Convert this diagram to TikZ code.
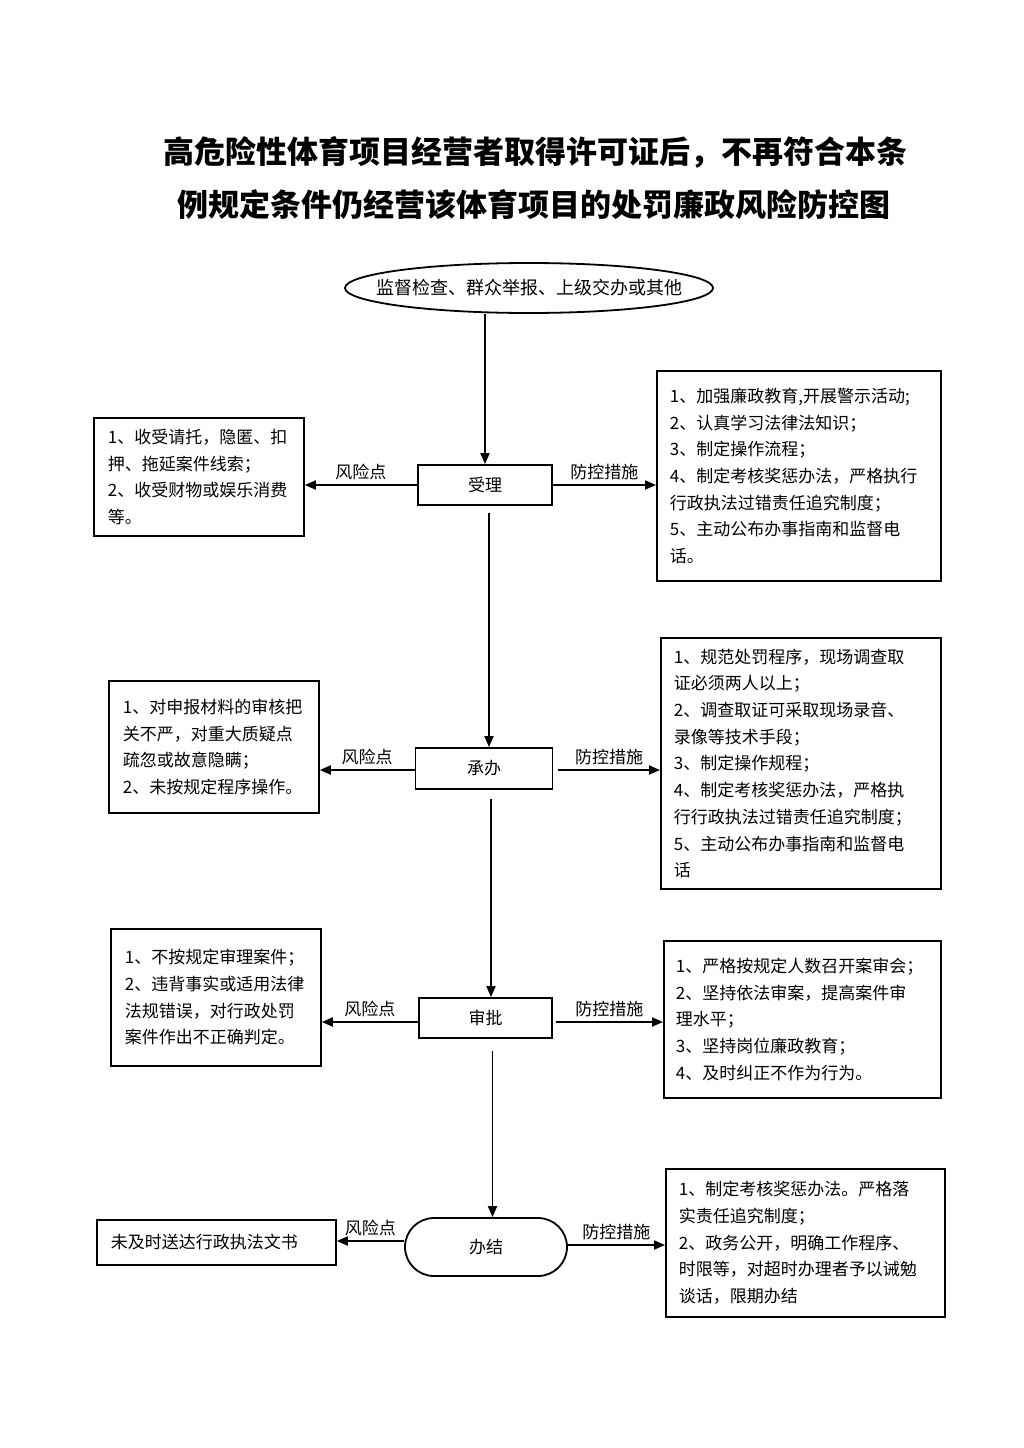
\documentclass[tikz,border=0pt]{standalone}
\usepackage{fontspec}
\setmainfont{Noto Sans CJK SC}
\usetikzlibrary{shapes.geometric,shapes.misc,arrows.meta}
\XeTeXlinebreaklocale "zh"
\begin{document}
\begin{tikzpicture}[x=1pt,y=-1pt,
 txt/.style={font=\fontsize{17}{26.7}\selectfont},
 box/.style={draw,line width=1.8pt,txt,inner sep=0pt},
 tbox/.style={box,anchor=north west,align=left,inner xsep=13pt},
 stage/.style={box,minimum width=134pt,minimum height=40pt},
 arr/.style={line width=1.8pt,-{Triangle[length=11pt,width=9pt]}},
 lab/.style={txt,above=4pt,inner sep=0pt},
 ttl/.style={font=\fontsize{31}{40}\selectfont\bfseries}
]
\useasboundingbox (0,0) rectangle (1024,1448);

\node[ttl] (t1) at (535,152) {高危险性体育项目经营者取得许可证后，不再符合本条};
\node[ttl] (t2) at (534,205) {例规定条件仍经营该体育项目的处罚廉政风险防控图};

\node[box,ellipse,font=\fontsize{18}{22}\selectfont,inner xsep=-26pt,inner ysep=0pt,minimum width=368pt,minimum height=50pt] (src) at (529,288) {监督检查、群众举报、上级交办或其他};

\node[stage] (sl) at (485,485) {受理};
\node[stage,minimum width=137pt,minimum height=41pt] (cb) at (484,768.5) {承办};
\node[stage,minimum width=133pt] (sp) at (485.5,1018) {审批};
\node[box,rounded rectangle,minimum width=162pt,minimum height=58pt] (bj) at (486,1247) {办结};

% left boxes
\node[tbox,minimum width=210pt,minimum height=118pt,text width=182pt,inner xsep=14pt] (l1) at (93,417) {1、收受请托，隐匿、扣\\押、拖延案件线索；\\2、收受财物或娱乐消费\\等。};
\node[tbox,minimum width=210pt,minimum height=132pt,text width=182pt,inner xsep=14pt] (l2) at (108,680) {1、对申报材料的审核把\\关不严，对重大质疑点\\疏忽或故意隐瞒；\\2、未按规定程序操作。};
\node[tbox,minimum width=210pt,minimum height=137pt,text width=182pt,inner xsep=14pt] (l3) at (110,928) {1、不按规定审理案件；\\2、违背事实或适用法律\\法规错误，对行政处罚\\案件作出不正确判定。};
\node[tbox,minimum width=239pt,minimum height=45pt,text width=211pt,inner xsep=14pt] (l4) at (96,1219) {未及时送达行政执法文书};

% right boxes
\node[tbox,minimum width=284pt,minimum height=210pt,text width=258pt] (r1) at (656,370) {1、加强廉政教育,开展警示活动;\\2、认真学习法律法知识；\\3、制定操作流程；\\4、制定考核奖惩办法，严格执行\\行政执法过错责任追究制度；\\5、主动公布办事指南和监督电\\话。};
\node[tbox,minimum width=280pt,minimum height=251pt,text width=254pt] (r2) at (660,637) {1、规范处罚程序，现场调查取\\证必须两人以上；\\2、调查取证可采取现场录音、\\录像等技术手段；\\3、制定操作规程；\\4、制定考核奖惩办法，严格执\\行行政执法过错责任追究制度；\\5、主动公布办事指南和监督电\\话};
\node[tbox,minimum width=277pt,minimum height=157pt,text width=253pt,inner xsep=12pt] (r3) at (663,940) {1、严格按规定人数召开案审会；\\2、坚持依法审案，提高案件审\\理水平；\\3、坚持岗位廉政教育；\\4、及时纠正不作为行为。};
\node[tbox,minimum width=279pt,minimum height=148pt,text width=253pt] (r4) at (665,1168) {1、制定考核奖惩办法。严格落\\实责任追究制度；\\2、政务公开，明确工作程序、\\时限等，对超时办理者予以诫勉\\谈话，限期办结};

% main flow
\draw[arr] (sl.north |- src.south) -- (sl.north);
\draw[arr] ([xshift=4pt,yshift=-7pt]sl.south) -- ([xshift=4pt]sl.south |- cb.north);
\draw[arr] ([xshift=7pt,yshift=-9pt]cb.south) -- ([xshift=7pt]cb.south |- sp.north);
\draw[arr] ([xshift=7pt,yshift=-12pt]sp.south) -- ([xshift=7pt]sp.south |- bj.north);

% side arrows
\draw[arr] (sl.west) -- (sl.west -| l1.east) node[lab,midway] {风险点};
\draw[arr] (sl.east) -- (sl.east -| r1.west) node[lab,midway] {防控措施};
\draw[arr] ([yshift=-1.5pt]cb.west) -- ([yshift=-1.5pt]cb.west -| l2.east) node[lab,midway] {风险点};
\draw[arr] ([xshift=5pt,yshift=-1.5pt]cb.east) -- ([yshift=-1.5pt]cb.east -| r2.west) node[lab,midway] {防控措施};
\draw[arr] ([yshift=-4pt]sp.west) -- ([yshift=-4pt]sp.west -| l3.east) node[lab,midway] {风险点};
\draw[arr] ([xshift=3pt,yshift=-4pt]sp.east) -- ([yshift=-4pt]sp.east -| r3.west) node[lab,midway] {防控措施};
\draw[arr] ([yshift=6pt]bj.west) -- ([yshift=6pt]bj.west -| l4.east) node[lab,midway] {风险点};
\draw[arr] ([yshift=2pt]bj.east) -- ([yshift=2pt]bj.east -| r4.west) node[lab,midway] {防控措施};
\end{tikzpicture}
\end{document}
